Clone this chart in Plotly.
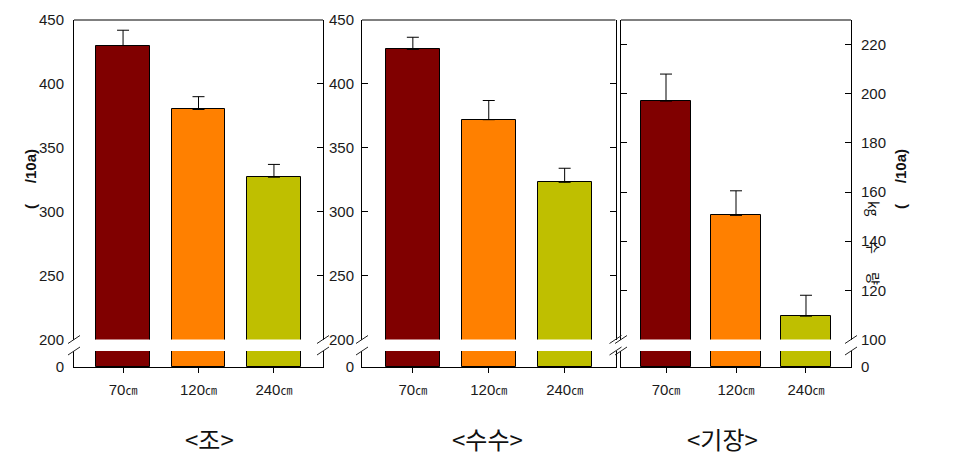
import plotly.graph_objects as go

# ---- data ----
categories = ["70", "120", "240"]
unit = "㎝"
jo_values = [430, 380, 327]
jo_err = [12, 10, 10]
susu_values = [427, 372, 323]
susu_err = [9.5, 15, 11]
gijang_values = [197, 150.5, 109.5]
gijang_err = [11, 10, 8.5]
colors = ["#800000", "#FF8000", "#BFBF00"]
panel_titles = ["<조>", "<수수>", "<기장>"]
left_ticks = [200, 250, 300, 350, 400, 450]
right_ticks = [100, 120, 140, 160, 180, 200, 220]

W, H = 960, 455
def px(x):
    return x / W
def py(y):
    return (H - y) / H

TOP, BAND_TOP, BAND_BOT, BOT = 20, 339.5, 351, 367
upper_dom = [py(BAND_TOP), py(TOP)]
lower_dom = [py(BOT), py(BAND_BOT)]
panels_x = [(74, 323), (362, 615.5), (621, 851)]
xranges = [[-0.65, 2.65], [-0.67, 2.67], [-0.643, 2.643]]

tickfont = dict(family="Liberation Sans, Arial", size=15, color="#1a1a1a")
xticktext = [c + "<span style='font-family:Noto Sans CJK KR;font-size:12px'>" + unit + "</span>"
             for c in categories]

fig = go.Figure()
xs = [0, 1, 2]
data = [(jo_values, jo_err), (susu_values, susu_err), (gijang_values, gijang_err)]
for i, (vals, errs) in enumerate(data):
    xa = "x" if i == 0 else f"x{i+1}"
    yu = "y" if i == 0 else f"y{2*i+1}"
    yl = f"y{2*i+2}"
    fig.add_trace(go.Bar(
        x=xs, y=vals, xaxis=xa, yaxis=yu, width=0.71,
        marker=dict(color=colors, line=dict(color="black", width=1)),
        error_y=dict(type="data", array=errs, arrayminus=[0]*3, symmetric=False,
                     color="black", thickness=1, width=6),
        showlegend=False, hoverinfo="skip"))
    fig.add_trace(go.Bar(
        x=xs, y=vals, xaxis=xa, yaxis=yl, width=0.71,
        marker=dict(color=colors, line=dict(color="black", width=1)),
        showlegend=False, hoverinfo="skip"))

layout = dict(
    width=W, height=H, margin=dict(l=0, r=0, t=0, b=0, pad=0, autoexpand=False),
    paper_bgcolor="white", plot_bgcolor="white", bargap=0,
)
for i in range(3):
    x0, x1 = panels_x[i]
    xk = "xaxis" if i == 0 else f"xaxis{i+1}"
    yu_k = "yaxis" if i == 0 else f"yaxis{2*i+1}"
    yl_k = f"yaxis{2*i+2}"
    yl_name = f"y{2*i+2}"
    xa = "x" if i == 0 else f"x{i+1}"
    layout[xk] = dict(domain=[px(x0), px(x1)], anchor=yl_name, range=xranges[i],
                      tickvals=xs, ticktext=xticktext, ticks="outside", ticklen=5,
                      tickcolor="black", showline=True, linecolor="black", linewidth=1,
                      showgrid=False, zeroline=False, automargin=False,
                      tickfont=tickfont, ticklabelstandoff=4, fixedrange=True)
    if i < 2:
        yr = [200, 450]
        tv = left_ticks
    else:
        yr = [100, 230]
        tv = right_ticks
    ud = dict(domain=upper_dom, anchor=xa, range=yr, tickvals=tv,
              showline=True, linecolor="black", linewidth=1, showgrid=False,
              zeroline=False, tickfont=tickfont, fixedrange=True, automargin=False)
    ld = dict(domain=lower_dom, anchor=xa, range=[0, 10], tickvals=[0], ticktext=["0"],
              showline=True, linecolor="black", linewidth=1, mirror=True, ticks="",
              showgrid=False, zeroline=False, tickfont=tickfont, fixedrange=True,
              automargin=False)
    if i == 0:
        ud.update(side="left", ticks="", mirror=True, ticklabelstandoff=6)
        ld.update(side="left", ticklabelstandoff=6)
    elif i == 1:
        ud.update(side="left", ticks="inside", ticklen=6, tickcolor="black", mirror="ticks",
                  ticklabelstandoff=4)
        ld.update(side="left", ticklabelstandoff=4)
    else:
        ud.update(side="right", ticks="inside", ticklen=6, tickcolor="black", mirror="ticks",
                  ticklabelstandoff=6)
        ld.update(side="right", ticklabelstandoff=6)
    layout[yu_k] = ud
    layout[yl_k] = ld

# overlay axis for the inside ticks on the right side of panel 1
layout["yaxis7"] = dict(overlaying="y", anchor="x", side="right", range=[200, 450],
                        tickvals=left_ticks, ticks="inside", ticklen=6, tickcolor="black",
                        showticklabels=False, showgrid=False, zeroline=False, showline=False,
                        fixedrange=True, automargin=False)
fig.update_layout(**layout)
fig.add_trace(go.Scatter(x=[None], y=[None], xaxis="x", yaxis="y7", showlegend=False))

shapes = []
for i in range(3):
    x0, x1 = panels_x[i]
    shapes.append(dict(type="line", xref="paper", yref="paper", x0=px(x0), x1=px(x1),
                       y0=py(TOP), y1=py(TOP), line=dict(color="black", width=1)))
    for X in (x0, x1):
        for yc in (BAND_TOP, BAND_BOT):
            shapes.append(dict(type="line", xref="paper", yref="paper",
                               x0=px(X - 6), x1=px(X + 6), y0=py(yc + 4), y1=py(yc - 4),
                               line=dict(color="#222", width=1)))
fig.update_layout(shapes=shapes)

ann = []
for t, cx in zip(panel_titles, [209, 487, 722]):
    ann.append(dict(text=t, x=px(cx), y=py(438), xref="paper", yref="paper", showarrow=False,
                    font=dict(family="Noto Sans CJK KR", size=24, color="#111"),
                    xanchor="center", yanchor="middle"))
lab = "(\u00a0\u00a0\u00a0\u00a0\u00a0/10a)"
ann.append(dict(text=lab, x=px(30), y=py(179), xref="paper", yref="paper", showarrow=False,
                textangle=-90, font=dict(family="Liberation Sans, Arial", size=15, color="#111",
                                         weight="bold"), xanchor="center", yanchor="middle"))
ann.append(dict(text=lab, x=px(900), y=py(179), xref="paper", yref="paper", showarrow=False,
                textangle=-90, font=dict(family="Liberation Sans, Arial", size=15, color="#111",
                                         weight="bold"), xanchor="center", yanchor="middle"))
for g, yy in [("kg", 209), ("수", 247), ("량", 278)]:
    ann.append(dict(text=g, x=px(874), y=py(yy), xref="paper", yref="paper", showarrow=False,
                    textangle=90, font=dict(family="Noto Sans CJK KR", size=14, color="#111"),
                    xanchor="center", yanchor="middle"))
fig.update_layout(annotations=ann)

fig.write_html("out.html")
